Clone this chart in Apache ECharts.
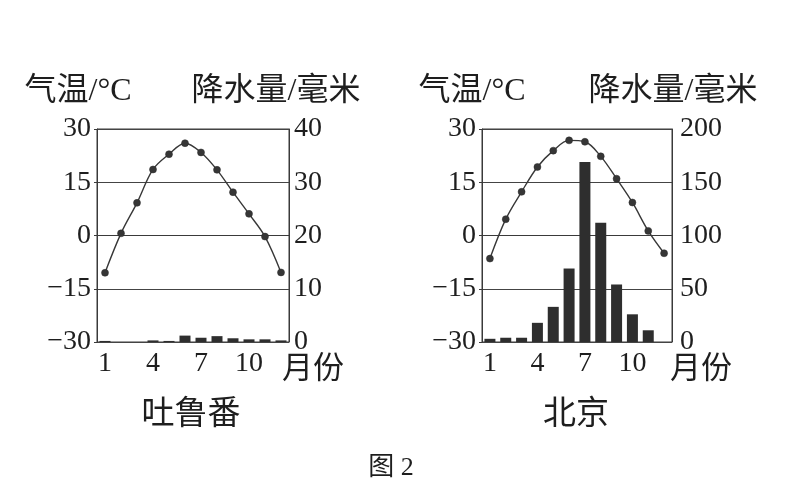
<!DOCTYPE html>
<html>
<head>
<meta charset="utf-8">
<script src="https://cdn.jsdelivr.net/npm/echarts@6/dist/echarts.min.js"></script>
<style>
  html, body { margin: 0; padding: 0; background: #ffffff; }
  #chart { width: 793px; height: 496px; }
</style>
</head>
<body>
<div id="chart"></div>
<script>
const months = ['1','2','3','4','5','6','7','8','9','10','11','12'];
const turpanTemp = [-10.5, 0.6, 9.2, 18.6, 22.9, 26.0, 23.4, 18.5, 12.2, 6.1, -0.3, -10.4];
const turpanPrecip = [0.2, 0, 0, 0.3, 0.2, 1.2, 0.8, 1.1, 0.7, 0.5, 0.5, 0.3];
const beijingTemp = [-6.5, 4.6, 12.3, 19.3, 23.9, 26.8, 26.4, 22.3, 16.0, 9.3, 1.3, -5.0];
const beijingPrecip = [3, 4, 4, 18, 33, 69, 169, 112, 54, 26, 11, 0];
const tempRange = { min: -30, max: 30, interval: 15 };
const turpanPrecipRange = { min: 0, max: 40, interval: 10 };
const beijingPrecipRange = { min: 0, max: 200, interval: 50 };
const texts = {
  tempName: '气温/°C',
  precipName: '降水量/毫米',
  monthName: '月份',
  city1: '吐鲁番',
  city2: '北京',
  caption: '图 2'
};

const ink = '#1e1e1e';
const lineCol = '#3a3a3a';
const numFont = '"Liberation Serif", "Noto Sans CJK SC", serif';
const mixFont = '"Liberation Serif", "Noto Sans CJK SC", serif';

const chart = echarts.init(document.getElementById('chart'), null, { renderer: 'canvas' });

function xAxisFor(g) {
  return {
    type: 'category', gridIndex: g, data: months, boundaryGap: true,
    axisLine: { show: true, lineStyle: { color: lineCol, width: 1 } },
    axisTick: { show: false },
    axisLabel: {
      interval: function (i) { return i % 3 === 0; },
      fontSize: 28, fontFamily: numFont, color: ink, margin: 8
    },
    splitLine: { show: false }
  };
}
function tempAxis(g) {
  return {
    type: 'value', gridIndex: g, position: 'left',
    min: tempRange.min, max: tempRange.max, interval: tempRange.interval,
    axisLine: { show: true, lineStyle: { color: lineCol, width: 1 } },
    axisTick: { show: true, length: 3, lineStyle: { color: lineCol } },
    axisLabel: {
      fontSize: 28, fontFamily: numFont, color: ink, margin: 6,
      formatter: function (v) { return String(v).replace('-', '\u2212'); }
    },
    splitLine: { show: true, lineStyle: { color: '#444', width: 1 } }
  };
}
function precipAxis(g, r, margin) {
  return {
    type: 'value', gridIndex: g, position: 'right',
    min: r.min, max: r.max, interval: r.interval,
    axisLine: { show: true, lineStyle: { color: lineCol, width: 1 } },
    axisTick: { show: false },
    axisLabel: { fontSize: 28, fontFamily: numFont, color: ink, margin: margin },
    splitLine: { show: false }
  };
}
function tempSeries(idx, data) {
  return {
    type: 'line', xAxisIndex: idx, yAxisIndex: idx * 2, data: data,
    smooth: 0.35, symbol: 'circle', symbolSize: 7, z: 5,
    lineStyle: { color: '#383838', width: 1.4 },
    itemStyle: { color: '#363636', borderColor: '#2a2a2a', borderWidth: 0.5 }
  };
}
function precipSeries(idx, data) {
  return {
    type: 'bar', xAxisIndex: idx, yAxisIndex: idx * 2 + 1, data: data,
    barWidth: 11, z: 2,
    itemStyle: { color: '#2e2e2e' }
  };
}
function label(x, y, text, size) {
  return {
    type: 'text', x: x, y: y,
    style: {
      text: text, fontSize: size, fontFamily: mixFont, fill: ink,
      align: 'center', verticalAlign: 'middle'
    }
  };
}

const option = {
  backgroundColor: '#ffffff',
  animation: false,
  grid: [
    { left: 97, top: 129, width: 192, height: 213, show: true, borderColor: lineCol, borderWidth: 1, backgroundColor: 'transparent', containLabel: false },
    { left: 482, top: 129, width: 190, height: 213, show: true, borderColor: lineCol, borderWidth: 1, backgroundColor: 'transparent', containLabel: false }
  ],
  xAxis: [xAxisFor(0), xAxisFor(1)],
  yAxis: [
    tempAxis(0), precipAxis(0, turpanPrecipRange, 5),
    tempAxis(1), precipAxis(1, beijingPrecipRange, 8)
  ],
  series: [
    precipSeries(0, turpanPrecip), tempSeries(0, turpanTemp),
    precipSeries(1, beijingPrecip), tempSeries(1, beijingTemp)
  ],
  graphic: [
    label(78, 92, texts.tempName, 32),
    label(276, 92, texts.precipName, 32),
    label(472, 92, texts.tempName, 32),
    label(673, 92, texts.precipName, 32),
    label(313, 370, texts.monthName, 31),
    label(701, 370, texts.monthName, 31),
    label(191, 415, texts.city1, 33),
    label(576, 415, texts.city2, 33),
    label(391, 468, texts.caption, 26)
  ]
};
chart.setOption(option);
</script>
</body>
</html>
